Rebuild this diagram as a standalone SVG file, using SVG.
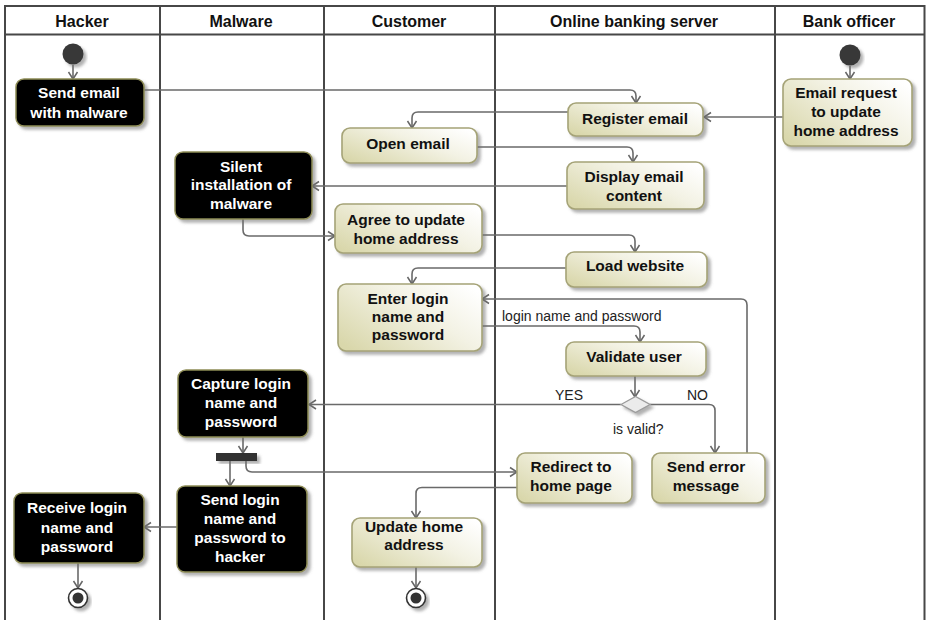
<svg xmlns="http://www.w3.org/2000/svg" width="926" height="620" viewBox="0 0 926 620">
  <defs>
    <linearGradient id="actFill" x1="0" y1="0.85" x2="1" y2="0.15">
      <stop offset="0" stop-color="#d9d7ab"/>
      <stop offset="0.6" stop-color="#f3f2e4"/>
      <stop offset="1" stop-color="#ffffff"/>
    </linearGradient>
    <filter id="shadow" x="-10%" y="-10%" width="130%" height="140%">
      <feDropShadow dx="3" dy="3" stdDeviation="1.4" flood-color="#6f6f6f" flood-opacity="0.55"/>
    </filter>
    <marker id="arrow" viewBox="-9 -6 11 12" refX="0" refY="0" markerWidth="11" markerHeight="12" markerUnits="userSpaceOnUse" orient="auto">
      <path d="M-7,-4.5 L0,0 L-7,4.5" fill="none" stroke="#666" stroke-width="1.5"/>
    </marker>
    <style>
      .lane { stroke: #474747; stroke-width: 2; fill: none; }
      .hdr { font-family: "Liberation Sans", Arial, sans-serif; font-weight: bold; font-size: 16px; fill: #111; text-anchor: middle; }
      .act { fill: url(#actFill); stroke: #a5a377; stroke-width: 1.6; filter: url(#shadow); }
      .actDark { fill: #000; stroke: #8f8d57; stroke-width: 1.5; filter: url(#shadow); }
      .t { font-family: "Liberation Sans", Arial, sans-serif; font-weight: bold; font-size: 15.5px; fill: #111; text-anchor: middle; }
      .tw { font-family: "Liberation Sans", Arial, sans-serif; font-weight: bold; font-size: 15.5px; fill: #fff; text-anchor: middle; }
      .lbl { font-family: "Liberation Sans", Arial, sans-serif; font-size: 14px; fill: #222; }
      .edge { fill: none; stroke: #6a6a6a; stroke-width: 1.6; marker-end: url(#arrow); }
      .start { fill: #383838; filter: url(#shadow); }
      .endOuter { fill: #fff; stroke: #333; stroke-width: 1.6; filter: url(#shadow); }
      .endInner { fill: #333; }
      .bar { fill: #333; filter: url(#shadow); }
      .dec { fill: #ebebeb; stroke: #9c9c9c; stroke-width: 1.4; filter: url(#shadow); }
    </style>
  </defs>

  <rect width="926" height="620" fill="#fff"/>

  <!-- swimlanes -->
  <g id="lanes">
    <path class="lane" d="M5,620 V6 H924.5 V620"/>
    <path class="lane" d="M5,34.5 H924.5"/>
    <path class="lane" d="M160,6 V620 M324,6 V620 M495,6 V620 M775,6 V620"/>
    <text class="hdr" x="82" y="26.5">Hacker</text>
    <text class="hdr" x="241" y="26.5">Malware</text>
    <text class="hdr" x="409" y="26.5">Customer</text>
    <text class="hdr" x="634" y="26.5">Online banking server</text>
    <text class="hdr" x="849" y="26.5">Bank officer</text>
  </g>

  <!-- control flows -->
  <g id="connectors">
    <path class="edge" d="M73,65 V79"/>
    <path class="edge" d="M850,66 V79"/>
    <path class="edge" d="M144,90 H630 Q636,90 636,96 V103"/>
    <path class="edge" d="M783,117 H704"/>
    <path class="edge" d="M568,112 H418 Q412,112 412,118 V128"/>
    <path class="edge" d="M477,147 H627 Q633,147 633,153 V162"/>
    <path class="edge" d="M567,186 H312"/>
    <path class="edge" d="M243,219 V230 Q243,236 249,236 H335"/>
    <path class="edge" d="M482,235 H629 Q635,235 635,241 V252"/>
    <path class="edge" d="M566,268 H418 Q412,268 412,274 V284"/>
    <path class="edge" d="M482,326 H634 Q640,326 640,332 V342"/>
    <path class="edge" d="M635,376 V397"/>
    <path class="edge" d="M621,404.5 H309"/>
    <path class="edge" d="M650,404.5 H709 Q715,404.5 715,410.5 V453"/>
    <path class="edge" d="M747,453 V305 Q747,299 741,299 H482"/>
    <path class="edge" d="M243,437 V453"/>
    <path class="edge" d="M246,461 V466 Q246,472 252,472 H517"/>
    <path class="edge" d="M230,461 V486"/>
    <path class="edge" d="M517,487.5 H422 Q416,487.5 416,493.5 V518"/>
    <path class="edge" d="M177,527 H144"/>
    <path class="edge" d="M78,563 V588"/>
    <path class="edge" d="M416,567 V588"/>
    <text class="lbl" x="502" y="321">login name and password</text>
    <text class="lbl" x="555" y="399.5">YES</text>
    <text class="lbl" x="687" y="399.5">NO</text>
    <text class="lbl" x="613" y="434">is valid?</text>
  </g>

  <!-- Hacker lane -->
  <g id="hacker_start"><circle class="start" cx="73" cy="54" r="10.5"/></g>
  <g id="send_email">
    <rect class="actDark" x="16" y="79" width="128" height="47" rx="8"/>
    <text class="tw" x="79" y="98">Send email</text>
    <text class="tw" x="79" y="117.5">with malware</text>
  </g>
  <g id="receive_login">
    <rect class="actDark" x="14" y="493" width="130" height="70" rx="8"/>
    <text class="tw" x="77" y="513">Receive login</text>
    <text class="tw" x="77" y="532.5">name and</text>
    <text class="tw" x="77" y="551.5">password</text>
  </g>
  <g id="hacker_end">
    <circle class="endOuter" cx="78" cy="598" r="9.5"/>
    <circle class="endInner" cx="78" cy="598" r="5.5"/>
  </g>

  <!-- Malware lane -->
  <g id="silent_install">
    <rect class="actDark" x="175" y="152" width="137" height="67" rx="8"/>
    <text class="tw" x="241" y="171.5">Silent</text>
    <text class="tw" x="241" y="190">installation of</text>
    <text class="tw" x="241" y="209">malware</text>
  </g>
  <g id="capture_login">
    <rect class="actDark" x="178" y="370" width="130" height="67" rx="8"/>
    <text class="tw" x="241" y="389">Capture login</text>
    <text class="tw" x="241" y="408">name and</text>
    <text class="tw" x="241" y="427">password</text>
  </g>
  <g id="fork"><rect class="bar" x="216" y="453" width="41" height="8"/></g>
  <g id="send_login">
    <rect class="actDark" x="177" y="486" width="130" height="86" rx="8"/>
    <text class="tw" x="240" y="505">Send login</text>
    <text class="tw" x="240" y="524">name and</text>
    <text class="tw" x="240" y="543">password to</text>
    <text class="tw" x="240" y="562">hacker</text>
  </g>

  <!-- Customer lane -->
  <g id="open_email">
    <rect class="act" x="342" y="128" width="135" height="35" rx="8"/>
    <text class="t" x="408" y="148.5">Open email</text>
  </g>
  <g id="agree_update">
    <rect class="act" x="335" y="204" width="147" height="49" rx="8"/>
    <text class="t" x="406" y="225">Agree to update</text>
    <text class="t" x="406" y="243.5">home address</text>
  </g>
  <g id="enter_login">
    <rect class="act" x="338" y="284" width="144" height="67" rx="8"/>
    <text class="t" x="408" y="304">Enter login</text>
    <text class="t" x="408" y="322">name and</text>
    <text class="t" x="408" y="340">password</text>
  </g>
  <g id="update_address">
    <rect class="act" x="352" y="518" width="130" height="49" rx="8"/>
    <text class="t" x="414" y="531.5">Update home</text>
    <text class="t" x="414" y="550">address</text>
  </g>
  <g id="customer_end">
    <circle class="endOuter" cx="416" cy="598" r="9.5"/>
    <circle class="endInner" cx="416" cy="598" r="5.5"/>
  </g>

  <!-- Online banking server lane -->
  <g id="register_email">
    <rect class="act" x="568" y="103" width="135" height="33" rx="8"/>
    <text class="t" x="635" y="123.5">Register email</text>
  </g>
  <g id="display_email">
    <rect class="act" x="567" y="162" width="137" height="47" rx="8"/>
    <text class="t" x="634" y="182">Display email</text>
    <text class="t" x="634" y="200.5">content</text>
  </g>
  <g id="load_website">
    <rect class="act" x="566" y="252" width="141" height="35" rx="8"/>
    <text class="t" x="635" y="271">Load website</text>
  </g>
  <g id="validate_user">
    <rect class="act" x="566" y="342" width="140" height="34" rx="8"/>
    <text class="t" x="634" y="362">Validate user</text>
  </g>
  <g id="is_valid">
    <polygon class="dec" points="621,404.5 635.5,396.5 650,404.5 635.5,412.5"/>
  </g>
  <g id="redirect_home">
    <rect class="act" x="517" y="453" width="115" height="50" rx="8"/>
    <text class="t" x="571" y="471.5">Redirect to</text>
    <text class="t" x="571" y="490.5">home page</text>
  </g>
  <g id="send_error">
    <rect class="act" x="652" y="453" width="113" height="50" rx="8"/>
    <text class="t" x="706" y="471.5">Send error</text>
    <text class="t" x="706" y="490.5">message</text>
  </g>

  <!-- Bank officer lane -->
  <g id="bank_start"><circle class="start" cx="850" cy="55" r="10.5"/></g>
  <g id="email_request">
    <rect class="act" x="783" y="79" width="129" height="67" rx="8"/>
    <text class="t" x="846" y="97.5">Email request</text>
    <text class="t" x="846" y="116.5">to update</text>
    <text class="t" x="846" y="136">home address</text>
  </g>
</svg>
